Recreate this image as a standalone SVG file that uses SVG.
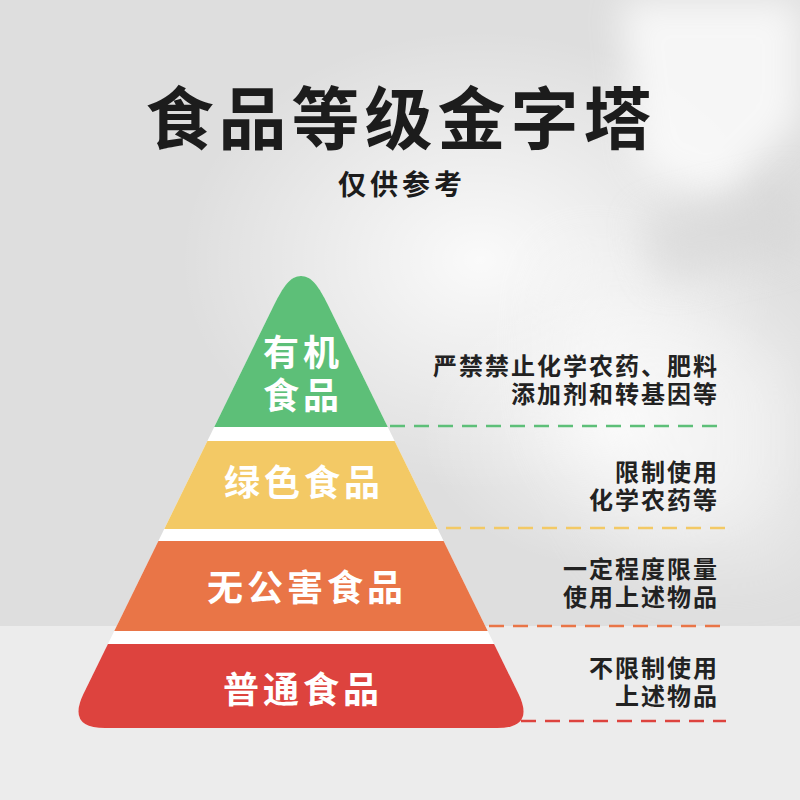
<svg xmlns="http://www.w3.org/2000/svg" width="800" height="800" viewBox="0 0 800 800">
<defs>
<style>
.title{font-family:"Noto Sans CJK SC","Noto Sans",sans-serif;font-weight:700;fill:#1c1c1c}
.lbl{font-family:"Noto Sans CJK SC","Noto Sans",sans-serif;font-weight:700;fill:#ffffff;font-size:36px;letter-spacing:4px;text-anchor:middle}
.desc{font-family:"Noto Sans CJK SC","Noto Sans",sans-serif;font-weight:700;fill:#222222;font-size:24px;letter-spacing:2px;text-anchor:end}
.dash{fill:none;stroke-width:2.5;stroke-dasharray:15 9}
</style>
<filter id="blur" x="-50%" y="-50%" width="200%" height="200%"><feGaussianBlur stdDeviation="40"/></filter>
<filter id="blur2" x="-50%" y="-50%" width="200%" height="200%"><feGaussianBlur stdDeviation="18"/></filter>
<radialGradient id="glow" cx="0.5" cy="0.5" r="0.5">
<stop offset="0" stop-color="#ffffff" stop-opacity="0.85"/>
<stop offset="1" stop-color="#ffffff" stop-opacity="0"/>
</radialGradient>
<clipPath id="pyr">
<path id="pyrPath" d="M 274 305 C 283 287 290 276 301 276 C 312 276 319 287 328 305 L 518.6 694 Q 535 728 497 728 L 105 728 Q 67 728 83.4 694 Z"/>
</clipPath>
<clipPath id="top"><rect x="0" y="0" width="800" height="626"/></clipPath>
</defs>

<!-- background -->
<rect x="0" y="0" width="800" height="800" fill="#dedede"/>
<g clip-path="url(#top)">
<ellipse cx="480" cy="260" rx="300" ry="230" fill="url(#glow)"/>
<ellipse cx="620" cy="430" rx="200" ry="140" fill="url(#glow)" opacity="0.8"/>
<polygon points="620,0 800,0 800,120 720,200 640,170" fill="#ffffff" opacity="0.75" filter="url(#blur2)"/>
<polygon points="560,250 800,330 800,560 640,560 560,420" fill="#ffffff" opacity="0.45" filter="url(#blur)"/>
<polygon points="640,220 800,180 800,250 660,280" fill="#d6d6d6" opacity="0.6" filter="url(#blur2)"/>
</g>
<rect x="0" y="626" width="800" height="174" fill="#ececec"/>

<!-- title -->
<g id="title">
<text class="title" x="401" y="144" font-size="68" letter-spacing="5" text-anchor="middle">食品等级金字塔</text>
<text class="title" x="402" y="195" font-size="28" letter-spacing="4" text-anchor="middle">仅供参考</text>
</g>

<!-- pyramid -->
<g id="pyramid">
<use href="#pyrPath" fill="#ffffff"/>
<g clip-path="url(#pyr)">
<g id="tier-organic">
<rect x="0" y="260" width="800" height="167" fill="#5dbf78"/>
</g>
<g id="tier-green">
<rect x="0" y="441" width="800" height="88" fill="#f3c965"/>
</g>
<g id="tier-nonpollution">
<rect x="0" y="541" width="800" height="90" fill="#e97547"/>
</g>
<g id="tier-ordinary">
<rect x="0" y="644" width="800" height="100" fill="#dd433e"/>
</g>
</g>
<text class="lbl" x="303" y="366">有机</text>
<text class="lbl" x="303" y="409">食品</text>
<text class="lbl" x="304" y="496">绿色食品</text>
<text class="lbl" x="307" y="601">无公害食品</text>
<text class="lbl" x="303" y="703">普通食品</text>
</g>

<!-- connectors -->
<g id="connectors">
<line class="dash" x1="390" y1="426" x2="726" y2="426" stroke="#5dbf78"/>
<line class="dash" x1="446" y1="528" x2="726" y2="528" stroke="#f3c965"/>
<line class="dash" x1="489" y1="626" x2="726" y2="626" stroke="#e97547"/>
<line class="dash" x1="521" y1="721" x2="726" y2="721" stroke="#dd433e"/>
</g>

<!-- descriptions -->
<g id="desc-organic">
<text class="desc" x="719" y="375">严禁禁止化学农药、肥料</text>
<text class="desc" x="719" y="403">添加剂和转基因等</text>
</g>
<g id="desc-green">
<text class="desc" x="719" y="481">限制使用</text>
<text class="desc" x="719" y="509">化学农药等</text>
</g>
<g id="desc-nonpollution">
<text class="desc" x="719" y="578">一定程度限量</text>
<text class="desc" x="719" y="606">使用上述物品</text>
</g>
<g id="desc-ordinary">
<text class="desc" x="719" y="677">不限制使用</text>
<text class="desc" x="719" y="705">上述物品</text>
</g>
</svg>
